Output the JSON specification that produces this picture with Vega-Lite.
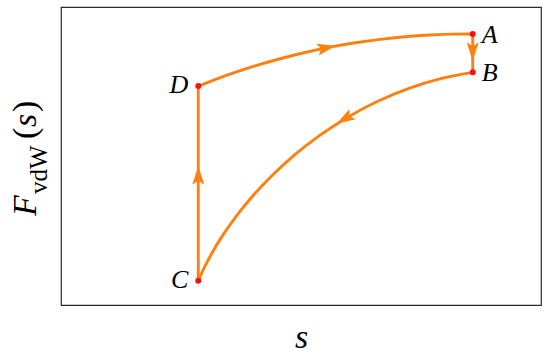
{
  "$schema": "https://vega.github.io/schema/vega-lite/v6.json",
  "width": 480,
  "height": 298,
  "autosize": {"type": "none"},
  "padding": {"left": 61, "top": 7, "right": 9, "bottom": 50},
  "background": "white",
  "config": {"view": {"stroke": "#2b2b2b", "strokeWidth": 1.2}},
  "datasets": {
    "curve": [
      {"seg": "DA", "s": 2.860, "F": 7.349},
      {"seg": "DA", "s": 3.208, "F": 7.565},
      {"seg": "DA", "s": 3.625, "F": 7.803},
      {"seg": "DA", "s": 4.042, "F": 8.021},
      {"seg": "DA", "s": 4.5625, "F": 8.263},
      {"seg": "DA", "s": 5.083, "F": 8.474},
      {"seg": "DA", "s": 5.604, "F": 8.652},
      {"seg": "DA", "s": 6.125, "F": 8.799},
      {"seg": "DA", "s": 6.646, "F": 8.915},
      {"seg": "DA", "s": 7.167, "F": 9.002},
      {"seg": "DA", "s": 7.6875, "F": 9.059},
      {"seg": "DA", "s": 8.208, "F": 9.089},
      {"seg": "DA", "s": 8.577, "F": 9.094},
      {"seg": "AB", "s": 8.577, "F": 9.094},
      {"seg": "AB", "s": 8.577, "F": 7.808},
      {"seg": "BC", "s": 2.860, "F": 0.815},
      {"seg": "BC", "s": 2.974, "F": 1.219},
      {"seg": "BC", "s": 3.146, "F": 1.747},
      {"seg": "BC", "s": 3.375, "F": 2.352},
      {"seg": "BC", "s": 3.660, "F": 3.002},
      {"seg": "BC", "s": 4.003, "F": 3.676},
      {"seg": "BC", "s": 4.404, "F": 4.356},
      {"seg": "BC", "s": 4.861, "F": 5.028},
      {"seg": "BC", "s": 5.375, "F": 5.674},
      {"seg": "BC", "s": 5.947, "F": 6.279},
      {"seg": "BC", "s": 6.576, "F": 6.821},
      {"seg": "BC", "s": 7.262, "F": 7.281},
      {"seg": "BC", "s": 7.891, "F": 7.589},
      {"seg": "BC", "s": 8.577, "F": 7.808},
      {"seg": "CD", "s": 2.860, "F": 0.815},
      {"seg": "CD", "s": 2.860, "F": 7.349}
    ],
    "arrows": [
      {"s": 5.5, "F": 8.624, "dir": 78},
      {"s": 8.577, "F": 8.557, "dir": 180},
      {"s": 5.9375, "F": 6.270, "dir": 239},
      {"s": 2.860, "F": 4.295, "dir": 0}
    ],
    "points": [
      {"name": "A", "s": 8.577, "F": 9.094},
      {"name": "B", "s": 8.577, "F": 7.808},
      {"name": "C", "s": 2.860, "F": 0.815},
      {"name": "D", "s": 2.860, "F": 7.349}
    ]
  },
  "layer": [
    {
      "data": {"name": "curve"},
      "mark": {"type": "line", "color": "#ff8010", "strokeWidth": 2.9, "interpolate": "monotone", "strokeCap": "round", "strokeJoin": "round"},
      "encoding": {
        "x": {"field": "s", "type": "quantitative", "scale": {"domain": [0, 10], "nice": false, "zero": false},
          "axis": {"title": "s", "domain": false, "ticks": false, "labels": false, "grid": false,
            "titleFont": "Liberation Serif", "titleFontStyle": "italic", "titleFontWeight": "normal", "titleFontSize": 34,
            "titleColor": "black", "titleX": 240, "titleY": 42, "titleBaseline": "alphabetic", "titleAlign": "center"}},
        "y": {"field": "F", "type": "quantitative", "scale": {"domain": [0, 10], "nice": false, "zero": false}, "axis": null},
        "detail": {"field": "seg"}
      }
    },
    {
      "data": {"name": "arrows"},
      "mark": {"type": "point", "shape": "M0,-1L0.55,0.7L0,0.35L-0.55,0.7Z", "filled": true, "color": "#ff8010", "size": 480, "opacity": 1},
      "encoding": {
        "x": {"field": "s", "type": "quantitative"},
        "y": {"field": "F", "type": "quantitative"},
        "angle": {"field": "dir", "type": "quantitative", "scale": null}
      }
    },
    {
      "data": {"name": "points"},
      "mark": {"type": "point", "shape": "circle", "filled": true, "color": "#ff1010", "size": 36, "opacity": 1},
      "encoding": {
        "x": {"field": "s", "type": "quantitative"},
        "y": {"field": "F", "type": "quantitative"}
      }
    },
    {
      "data": {"name": "points"},
      "transform": [{"filter": "datum.name === 'A' || datum.name === 'B'"}],
      "mark": {"type": "text", "font": "Liberation Serif", "fontStyle": "italic", "fontSize": 26, "align": "left", "baseline": "middle", "dx": 9, "dy": 1, "color": "black"},
      "encoding": {
        "x": {"field": "s", "type": "quantitative"},
        "y": {"field": "F", "type": "quantitative"},
        "text": {"field": "name"}
      }
    },
    {
      "data": {"name": "points"},
      "transform": [{"filter": "datum.name === 'C' || datum.name === 'D'"}],
      "mark": {"type": "text", "font": "Liberation Serif", "fontStyle": "italic", "fontSize": 26, "align": "right", "baseline": "middle", "dx": -10, "dy": -1, "color": "black"},
      "encoding": {
        "x": {"field": "s", "type": "quantitative"},
        "y": {"field": "F", "type": "quantitative"},
        "text": {"field": "name"}
      }
    },
    {
      "data": {"values": [{"label": "F"}]},
      "mark": {"type": "text", "font": "Liberation Serif", "fontStyle": "italic", "fontSize": 34, "angle": 270, "align": "left", "baseline": "alphabetic", "color": "black"},
      "encoding": {"x": {"datum": -0.531}, "y": {"datum": 2.987}, "text": {"field": "label"}}
    },
    {
      "data": {"values": [{"label": "vdW"}]},
      "mark": {"type": "text", "font": "Liberation Serif", "fontSize": 25, "angle": 270, "align": "left", "baseline": "alphabetic", "color": "black"},
      "encoding": {"x": {"datum": -0.292}, "y": {"datum": 3.725}, "text": {"field": "label"}}
    },
    {
      "data": {"values": [{"label": "("}]},
      "mark": {"type": "text", "font": "Liberation Serif", "fontSize": 34, "angle": 270, "align": "left", "baseline": "alphabetic", "color": "black"},
      "encoding": {"x": {"datum": -0.531}, "y": {"datum": 5.570}, "text": {"field": "label"}}
    },
    {
      "data": {"values": [{"label": "s"}]},
      "mark": {"type": "text", "font": "Liberation Serif", "fontStyle": "italic", "fontSize": 34, "angle": 270, "align": "left", "baseline": "alphabetic", "color": "black"},
      "encoding": {"x": {"datum": -0.531}, "y": {"datum": 5.973}, "text": {"field": "label"}}
    },
    {
      "data": {"values": [{"label": ")"}]},
      "mark": {"type": "text", "font": "Liberation Serif", "fontSize": 34, "angle": 270, "align": "left", "baseline": "alphabetic", "color": "black"},
      "encoding": {"x": {"datum": -0.531}, "y": {"datum": 6.477}, "text": {"field": "label"}}
    }
  ]
}
